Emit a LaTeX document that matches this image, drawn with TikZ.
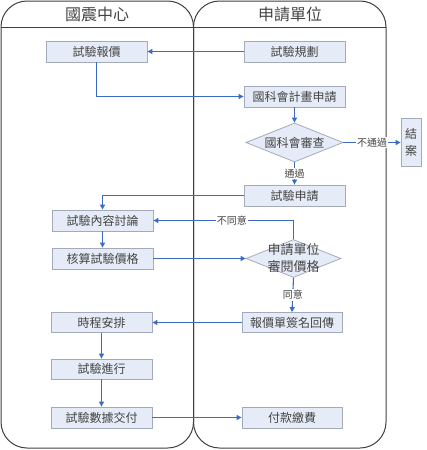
\documentclass[tikz,border=0pt]{standalone}
\usepackage{fontspec}
\setmainfont{Noto Sans CJK TC}
\usetikzlibrary{shapes.geometric,arrows.meta}
\definecolor{boxfill}{HTML}{E6ECF7}
\definecolor{boxline}{HTML}{A3ABBB}
\definecolor{flow}{HTML}{3B6CC2}
\definecolor{lane}{HTML}{404040}
\definecolor{txt}{HTML}{444444}
\begin{document}
\begin{tikzpicture}[x=1pt,y=-1pt,
 stepbox/.style={draw=boxline, fill=boxfill, line width=0.8pt, minimum width=101pt, minimum height=21pt, inner sep=0pt, text=txt, font=\fontsize{12}{14}\selectfont},
 decide/.style={diamond, draw=boxline, fill=boxfill, line width=0.8pt, inner sep=0pt, minimum width=97pt, minimum height=39pt},
 dtext/.style={text=txt, align=center, inner sep=0pt},
 flowline/.style={draw=flow, line width=1.1pt, -{Triangle[length=5pt,width=5pt]}},
 lbl/.style={fill=white, inner sep=1pt, text=txt, font=\fontsize{10}{12}\selectfont},
 lanebox/.style={draw=lane, line width=1pt, rounded corners=26pt},
 head/.style={text=txt, font=\fontsize{16}{18}\selectfont},
 ]
\useasboundingbox (0,0) rectangle (426,450);
\path[lanebox] (1,1) rectangle (193.5,448);
\path[lanebox] (193.5,1) rectangle (386,448);
\draw[lane, line width=0.8pt] (1,27.5) -- (386,27.5);
\node[head] (h1) at (97,14.5) {國震中心};
\node[head] (h2) at (290,14.5) {申請單位};

\node[stepbox] (b1) at (96.5,51.5) {試驗報價};
\node[stepbox] (b2) at (294.5,51.5) {試驗規劃};
\node[stepbox] (b3) at (294.5,96.5) {國科會計畫申請};
\node[decide] (d1) at (294.5,142.5) {};
\node[dtext, font=\fontsize{12}{14}\selectfont] (t1) at (d1.center) {國科會審查};
\node[stepbox, minimum width=20pt, minimum height=48pt, align=center, font=\fontsize{12}{17}\selectfont] (e) at (411,142.5) {結\\案};
\node[stepbox] (b4) at (294.5,195.5) {試驗申請};
\node[stepbox] (b5) at (102.5,220.5) {試驗內容討論};
\node[stepbox] (b6) at (102.5,258.5) {核算試驗價格};
\node[decide, minimum width=95pt, minimum height=38pt] (d2) at (293.5,258.5) {};
\node[dtext, font=\fontsize{13}{17}\selectfont] (t2) at (d2.center) {申請單位\\審閱價格};
\node[stepbox, minimum width=100pt, minimum height=20pt] (b7) at (292,322.5) {報價單簽名回傳};
\node[stepbox, minimum height=20pt] (b8) at (101.5,322.5) {時程安排};
\node[stepbox, minimum height=20pt] (b9) at (101.5,369) {試驗進行};
\node[stepbox] (b10) at (101.5,417.5) {試驗數據交付};
\node[stepbox, minimum width=100pt] (b11) at (292,417.5) {付款繳費};

\draw[flowline] (b2.west) -- (b1.east);
\draw[flowline] (b1.south) |- (b3.west);
\draw[flowline] (b3.south) -- (d1.north);
\draw[flowline] (d1.east) -- node[lbl]{不通過} (e.west);
\draw[flowline] (d1.south) -- node[lbl]{通過} (b4.north);
\draw[flowline] (b4.west) -| (b5.north);
\draw[flowline] (b5.south) -- (b6.north);
\draw[flowline] (b6.east) -- (d2.west);
\draw[flowline] (d2.north) |- node[lbl, pos=0.72]{不同意} (b5.east);
\draw[flowline] (d2.south) -- node[lbl]{同意} (b7.north);
\draw[flowline] (b7.west) -- (b8.east);
\draw[flowline] (b8.south) -- (b9.north);
\draw[flowline] (b9.south) -- (b10.north);
\draw[flowline] (b10.east) -- (b11.west);
\end{tikzpicture}
\end{document}
